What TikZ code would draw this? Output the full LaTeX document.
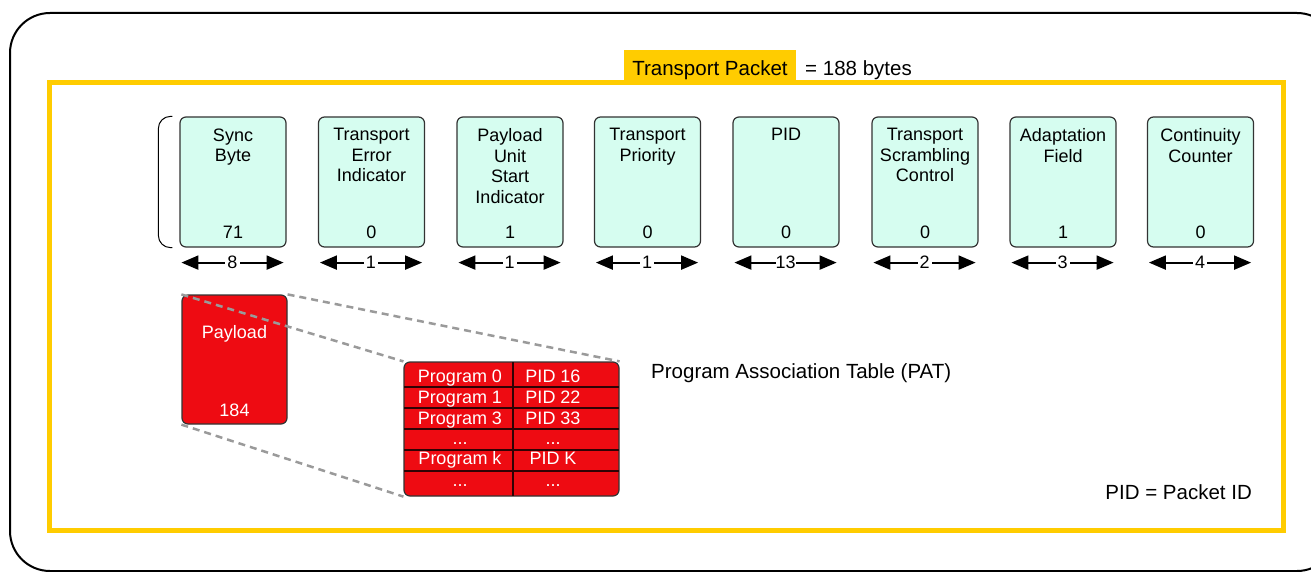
\documentclass[tikz,border=0pt]{standalone}
\usepackage{fontspec}
\setmainfont{Liberation Sans}
\usetikzlibrary{arrows.meta}
\definecolor{pktyellow}{HTML}{FFCC00}
\definecolor{fieldmint}{HTML}{D6FDF0}
\definecolor{patred}{HTML}{EE0B12}
\definecolor{zoomgray}{HTML}{9A9A9A}
\definecolor{boxedge}{HTML}{333333}
\tikzset{
  field/.style={draw=boxedge, line width=1.2pt, fill=fieldmint, rounded corners=6pt,
    minimum width=106pt, minimum height=130pt, inner sep=0pt},
  fname/.style={anchor=north, align=center, inner sep=0pt,
    font=\fontsize{18}{20.5}\selectfont},
  fval/.style={inner sep=0pt, font=\fontsize{18}{20.5}\selectfont},
  bitarrow/.style={line width=2pt, {Triangle[length=17pt,width=14pt]}-{Triangle[length=17pt,width=14pt]}},
  bitlbl/.style={fill=white, inner xsep=2pt, inner ysep=1pt, font=\fontsize{18}{20}\selectfont},
  redbox/.style={draw=boxedge, line width=1.2pt, fill=patred, rounded corners=6pt, inner sep=0pt},
  cell/.style={anchor=base, inner sep=0pt, text=white, font=\fontsize{18}{20}\selectfont},
  tabline/.style={draw=black!80!patred, line width=1.2pt},
  zoomline/.style={draw=zoomgray, line width=2.5pt, dash pattern=on 7pt off 5pt},
  bigtext/.style={font=\fontsize{20.5}{24}\selectfont}
}

\begin{document}
\begin{tikzpicture}[x=1pt,y=-1pt]
  \useasboundingbox (0,0) rectangle (1311,572);
  \draw[line width=2pt, rounded corners=40pt] (10,13) rectangle (1337,571);
  \draw[pktyellow, line width=5pt] (49.5,82.5) rectangle (1283.5,530);
  \node[bigtext, fill=pktyellow, inner xsep=8pt, inner ysep=2pt, text height=23.5pt, text depth=5.5pt, anchor=south] (title) at (710,83) {Transport Packet};
  \node[bigtext, anchor=base west, inner sep=0pt] (bytes) at (805,75.5) {= 188 bytes};

  % header fields
  \node[field] (f1) at (233,182) {};
  \node[field] (f2) at (371.5,182) {};
  \node[field] (f3) at (510,182) {};
  \node[field] (f4) at (647.5,182) {};
  \node[field] (f5) at (786,182) {};
  \node[field] (f6) at (925,182) {};
  \node[field] (f7) at (1063,182) {};
  \node[field] (f8) at (1200.5,182) {};
  \node[fname] (n1) at ([yshift=-12pt]f1.north) {Sync\\Byte};
  \node[fname] (n2) at ([yshift=-12pt]f2.north) {Transport\\Error\\Indicator};
  \node[fname] (n3) at ([yshift=-12pt]f3.north) {Payload\\Unit\\Start\\Indicator};
  \node[fname] (n4) at ([yshift=-12pt]f4.north) {Transport\\Priority};
  \node[fname] (n5) at ([yshift=-12pt]f5.north) {PID};
  \node[fname] (n6) at ([yshift=-12pt]f6.north) {Transport\\Scrambling\\Control};
  \node[fname] (n7) at ([yshift=-12pt]f7.north) {Adaptation\\Field};
  \node[fname] (n8) at ([yshift=-12pt]f8.north) {Continuity\\Counter};
  \node[fval] (v1) at ([yshift=15pt]f1.south) {71};
  \node[fval] (v2) at ([yshift=15pt]f2.south) {0};
  \node[fval] (v3) at ([yshift=15pt]f3.south) {1};
  \node[fval] (v4) at ([yshift=15pt]f4.south) {0};
  \node[fval] (v5) at ([yshift=15pt]f5.south) {0};
  \node[fval] (v6) at ([yshift=15pt]f6.south) {0};
  \node[fval] (v7) at ([yshift=15pt]f7.south) {1};
  \node[fval] (v8) at ([yshift=15pt]f8.south) {0};
  \draw[line width=1pt, rounded corners=12pt] ([xshift=-7pt]f1.north west) -- ([xshift=-21pt]f1.north west) -- ([xshift=-21pt]f1.south west) -- ([xshift=-7pt]f1.south west);

  % bit widths
  \draw[bitarrow] ([xshift=2pt,yshift=-15pt]f1.south west) -- node[bitlbl] {8} ([xshift=-3pt,yshift=-15pt]f1.south east);
  \draw[bitarrow] ([xshift=2pt,yshift=-15pt]f2.south west) -- node[bitlbl] {1} ([xshift=-3pt,yshift=-15pt]f2.south east);
  \draw[bitarrow] ([xshift=2pt,yshift=-15pt]f3.south west) -- node[bitlbl] {1} ([xshift=-3pt,yshift=-15pt]f3.south east);
  \draw[bitarrow] ([xshift=2pt,yshift=-15pt]f4.south west) -- node[bitlbl] {1} ([xshift=-3pt,yshift=-15pt]f4.south east);
  \draw[bitarrow] ([xshift=2pt,yshift=-15pt]f5.south west) -- node[bitlbl, inner xsep=0pt] {13} ([xshift=-3pt,yshift=-15pt]f5.south east);
  \draw[bitarrow] ([xshift=2pt,yshift=-15pt]f6.south west) -- node[bitlbl] {2} ([xshift=-3pt,yshift=-15pt]f6.south east);
  \draw[bitarrow] ([xshift=2pt,yshift=-15pt]f7.south west) -- node[bitlbl] {3} ([xshift=-3pt,yshift=-15pt]f7.south east);
  \draw[bitarrow] ([xshift=2pt,yshift=-15pt]f8.south west) -- node[bitlbl] {4} ([xshift=-3pt,yshift=-15pt]f8.south east);

  % payload and PAT
  \node[redbox, minimum width=105pt, minimum height=129pt] (payload) at (234.5,359.5) {};
  \node[fval, text=white] (plname) at ([yshift=-39pt]payload.north) {Payload};
  \node[fval, text=white] (plsize) at ([yshift=14pt]payload.south) {184};
  \node[redbox, minimum width=215pt, minimum height=134pt] (pat) at (511.5,429) {};
  \draw[tabline] (404,387) -- (619,387);
  \draw[tabline] (404,408) -- (619,408);
  \draw[tabline] (404,429) -- (619,429);
  \draw[tabline] (404,450) -- (619,450);
  \draw[tabline] (404,471) -- (619,471);
  \draw[tabline] (513,362) -- (513,496);
  \node[cell] (p0) at (460,382.5) {Program 0};
  \node[cell] (d0) at (553,382.5) {PID 16};
  \node[cell] (p1) at (460,403.5) {Program 1};
  \node[cell] (d1) at (553,403.5) {PID 22};
  \node[cell] (p3) at (460,424) {Program 3};
  \node[cell] (d3) at (553,424) {PID 33};
  \node[cell] (pdots) at (460,444) {...};
  \node[cell] (ddots) at (553,444) {...};
  \node[cell] (pk) at (460,464.5) {Program k};
  \node[cell] (dk) at (553,464.5) {PID K};
  \node[cell] (pend) at (460,486) {...};
  \node[cell] (dend) at (553,486) {...};
  \draw[zoomline] (payload.north west) -- (pat.north west);
  \draw[zoomline] (payload.north east) -- (pat.north east);
  \draw[zoomline] (payload.south west) -- (pat.south west);
  \node[bigtext, anchor=base west, inner sep=0pt] (patlbl) at (651,378.5) {Program Association Table (PAT)};
  \node[bigtext, anchor=base east, inner sep=0pt] (pidnote) at (1252,499.5) {PID = Packet ID};
\end{tikzpicture}
\end{document}
